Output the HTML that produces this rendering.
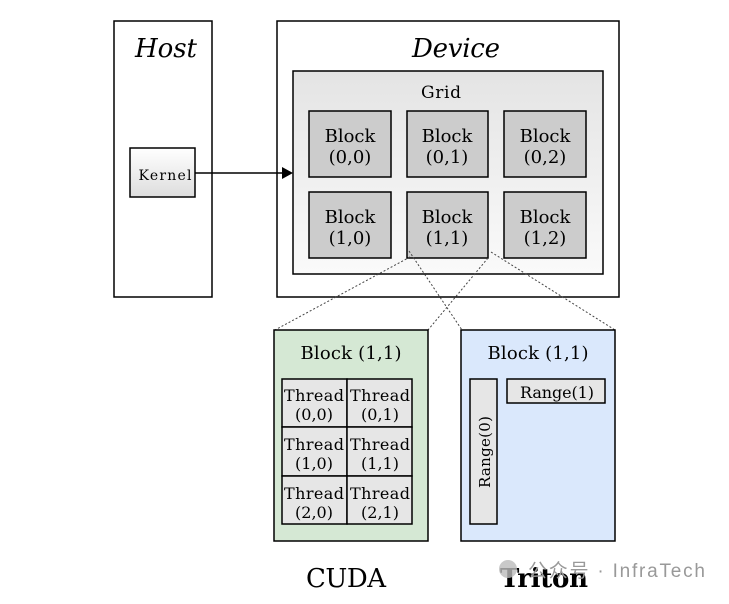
<!DOCTYPE html>
<html><head><style>body{margin:0;background:#fff}</style></head><body>
<svg width="729" height="599" xmlns="http://www.w3.org/2000/svg" font-family="'DejaVu Serif','Liberation Serif',serif">
<defs>
<linearGradient id="g" x1="0" y1="0" x2="0" y2="1"><stop offset="0" stop-color="#e4e4e4"/><stop offset="1" stop-color="#fafafa"/></linearGradient>
<linearGradient id="k" x1="0" y1="0" x2="0" y2="1"><stop offset="0" stop-color="#fff"/><stop offset="1" stop-color="#ddd"/></linearGradient>
</defs>
<rect x="114" y="21" width="98" height="276" fill="#fff" stroke="#000" stroke-width="1.5"/>
<text x="166" y="57" font-size="26" font-style="italic" text-anchor="middle" textLength="62">Host</text>
<rect x="277" y="21" width="342" height="276" fill="#fff" stroke="#000" stroke-width="1.5"/>
<text x="456" y="57" font-size="26" font-style="italic" text-anchor="middle" textLength="88">Device</text>
<rect x="293" y="71" width="310" height="203" fill="url(#g)" stroke="#000" stroke-width="1.5"/>
<text x="441" y="98" font-size="17" text-anchor="middle" textLength="40">Grid</text>
<g fill="#cccccc" stroke="#000" stroke-width="1.5">
<rect x="309" y="111" width="82" height="66"/><rect x="407" y="111" width="81" height="66"/><rect x="504" y="111" width="82" height="66"/>
<rect x="309" y="192" width="82" height="66"/><rect x="407" y="192" width="81" height="66"/><rect x="504" y="192" width="82" height="66"/>
</g>
<g font-size="18" text-anchor="middle">
<text x="350" y="142">Block</text><text x="350" y="163">(0,0)</text>
<text x="447" y="142">Block</text><text x="447" y="163">(0,1)</text>
<text x="545" y="142">Block</text><text x="545" y="163">(0,2)</text>
<text x="350" y="223">Block</text><text x="350" y="244">(1,0)</text>
<text x="447" y="223">Block</text><text x="447" y="244">(1,1)</text>
<text x="545" y="223">Block</text><text x="545" y="244">(1,2)</text>
</g>
<rect x="130" y="148" width="65" height="49" fill="url(#k)" stroke="#000" stroke-width="1.5"/>
<text x="165" y="180" font-size="14" text-anchor="middle" textLength="53">Kernel</text>
<line x1="195" y1="173" x2="282" y2="173" stroke="#000" stroke-width="1.5"/>
<polygon points="282,167 293,173 282,179" fill="#000"/>
<g stroke="#444" stroke-width="1" stroke-dasharray="2,2">
<line x1="410" y1="257" x2="275" y2="330"/>
<line x1="409" y1="251" x2="462" y2="330"/>
<line x1="488" y1="258" x2="428" y2="330"/>
<line x1="491" y1="252" x2="615" y2="330"/>
</g>
<rect x="274" y="330" width="154" height="211" fill="#d5e8d4" stroke="#000" stroke-width="1.5"/>
<text x="351" y="359" font-size="18" text-anchor="middle" textLength="101">Block (1,1)</text>
<g fill="#e6e6e6" stroke="#000" stroke-width="1.5">
<rect x="282" y="379" width="65" height="48"/><rect x="347" y="379" width="65" height="48"/>
<rect x="282" y="427" width="65" height="49"/><rect x="347" y="427" width="65" height="49"/>
<rect x="282" y="476" width="65" height="48"/><rect x="347" y="476" width="65" height="48"/>
</g>
<g font-size="16" text-anchor="middle">
<text x="314" y="401" textLength="60">Thread</text><text x="314" y="420">(0,0)</text>
<text x="380" y="401" textLength="60">Thread</text><text x="380" y="420">(0,1)</text>
<text x="314" y="450" textLength="60">Thread</text><text x="314" y="469">(1,0)</text>
<text x="380" y="450" textLength="60">Thread</text><text x="380" y="469">(1,1)</text>
<text x="314" y="499" textLength="60">Thread</text><text x="314" y="518">(2,0)</text>
<text x="380" y="499" textLength="60">Thread</text><text x="380" y="518">(2,1)</text>
</g>
<rect x="461" y="330" width="154" height="211" fill="#dae8fc" stroke="#000" stroke-width="1.5"/>
<text x="538" y="359" font-size="18" text-anchor="middle" textLength="101">Block (1,1)</text>
<rect x="470" y="379" width="27" height="145" fill="#e6e6e6" stroke="#000" stroke-width="1.5"/>
<text transform="translate(490,452) rotate(-90)" font-size="15" text-anchor="middle" textLength="72">Range(0)</text>
<rect x="507" y="379" width="98" height="24" fill="#e6e6e6" stroke="#000" stroke-width="1.5"/>
<text x="557" y="398" font-size="16" text-anchor="middle" textLength="74">Range(1)</text>
<text x="346" y="587" font-size="26" text-anchor="middle" textLength="80">CUDA</text>
<text x="544" y="587" font-size="26" font-weight="bold" text-anchor="middle" textLength="88">Triton</text>
<text x="528" y="577" font-size="19" fill="#999" font-family="'Liberation Sans','Noto Sans CJK SC',sans-serif" textLength="177">公众号 · InfraTech</text>
<circle cx="508" cy="569" r="9" fill="#bbb" opacity="0.8"/>
</svg>
</body></html>
